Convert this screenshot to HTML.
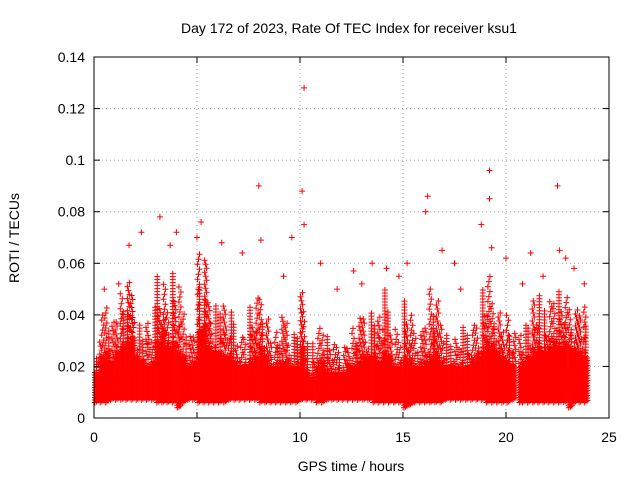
<!DOCTYPE html>
<html><head><meta charset="utf-8"><style>
body{margin:0;background:#fff}
svg{display:block;font-family:"Liberation Sans",sans-serif}
</style></head><body>
<svg id="chart" width="640" height="480" viewBox="0 0 640 480">
<rect width="640" height="480" fill="#fff"/>
<text x="349" y="33" font-size="14" text-anchor="middle">Day 172 of 2023, Rate Of TEC Index for receiver ksu1</text>
<text transform="translate(19,238) rotate(-90)" font-size="14" text-anchor="middle">ROTI / TECUs</text>
<text x="351" y="471" font-size="14" text-anchor="middle">GPS time / hours</text>
<g id="grid"></g>
<g id="marks"></g>
<g id="ticks"></g>
<rect x="94" y="57" width="515" height="361" fill="none" stroke="#000" stroke-width="1"/>
</svg>
<script>
const xTicks=[0,5,10,15,20,25];
const yTicks=[0,0.02,0.04,0.06,0.08,0.1,0.12,0.14];
const yTickLabels=["0","0.02","0.04","0.06","0.08","0.1","0.12","0.14"];
const binWidth=0.25;
const binStarts=[0,0.25,0.5,0.75,1,1.25,1.5,1.75,2,2.25,2.5,2.75,3,3.25,3.5,3.75,4,4.25,4.5,4.75,5,5.25,5.5,5.75,6,6.25,6.5,6.75,7,7.25,7.5,7.75,8,8.25,8.5,8.75,9,9.25,9.5,9.75,10,10.25,10.5,10.75,11,11.25,11.5,11.75,12,12.25,12.5,12.75,13,13.25,13.5,13.75,14,14.25,14.5,14.75,15,15.25,15.5,15.75,16,16.25,16.5,16.75,17,17.25,17.5,17.75,18,18.25,18.5,18.75,19,19.25,19.5,19.75,20,20.25,20.6,20.75,21,21.25,21.5,21.75,22,22.25,22.5,22.75,23,23.25,23.5,23.75];
const denseTop=[0.018,0.024,0.026,0.022,0.026,0.028,0.03,0.032,0.024,0.022,0.02,0.022,0.03,0.034,0.028,0.03,0.026,0.024,0.02,0.022,0.034,0.036,0.028,0.026,0.026,0.024,0.024,0.022,0.02,0.02,0.022,0.024,0.028,0.024,0.02,0.02,0.022,0.022,0.02,0.02,0.028,0.018,0.016,0.02,0.022,0.018,0.018,0.018,0.018,0.02,0.02,0.022,0.024,0.024,0.024,0.022,0.026,0.024,0.02,0.02,0.024,0.022,0.02,0.02,0.022,0.024,0.026,0.022,0.02,0.02,0.02,0.02,0.02,0.022,0.024,0.026,0.03,0.028,0.026,0.024,0.022,0.02,0.02,0.022,0.024,0.026,0.028,0.026,0.028,0.03,0.028,0.03,0.028,0.026,0.026,0.024];
const sparseTop=[0.024,0.04,0.048,0.042,0.046,0.05,0.054,0.052,0.04,0.036,0.038,0.044,0.062,0.058,0.05,0.056,0.052,0.045,0.036,0.04,0.064,0.062,0.05,0.048,0.05,0.044,0.042,0.04,0.036,0.038,0.044,0.048,0.052,0.042,0.036,0.034,0.04,0.042,0.036,0.04,0.05,0.03,0.032,0.04,0.04,0.032,0.03,0.03,0.03,0.034,0.036,0.04,0.042,0.046,0.044,0.04,0.05,0.046,0.04,0.036,0.046,0.04,0.036,0.038,0.044,0.05,0.046,0.04,0.036,0.034,0.032,0.036,0.036,0.04,0.044,0.05,0.056,0.05,0.046,0.04,0.04,0.034,0.036,0.04,0.044,0.046,0.048,0.046,0.05,0.054,0.05,0.048,0.046,0.046,0.05,0.044];
const binLow=[0.006,0.006,0.006,0.007,0.007,0.007,0.007,0.007,0.007,0.007,0.007,0.007,0.006,0.006,0.006,0.006,0.004,0.006,0.007,0.007,0.006,0.006,0.006,0.006,0.006,0.006,0.007,0.007,0.007,0.007,0.007,0.007,0.006,0.006,0.006,0.006,0.006,0.006,0.006,0.006,0.007,0.007,0.007,0.006,0.006,0.007,0.007,0.007,0.007,0.007,0.007,0.007,0.007,0.007,0.006,0.006,0.006,0.006,0.006,0.006,0.004,0.005,0.006,0.006,0.006,0.006,0.006,0.006,0.007,0.007,0.007,0.007,0.007,0.007,0.007,0.007,0.006,0.006,0.006,0.006,0.006,0.007,0.006,0.006,0.006,0.006,0.006,0.006,0.006,0.006,0.006,0.006,0.004,0.006,0.006,0.006];
const outT=[10.2,8,10.1,19.2,19.2,22.5,16.2,16.1,3.2,5.2,4,1.7,2.3,6.2,9.6,10.2,19.3,22.6,8.1,7.2,11,13.5,15.2,14.2,17.5,18.8,20,21.2,23.3,12.6,3.7,5,16.9,22.9,0.5,1.2,9.2,11.8,13,14.8,17.8,20.8,21.8,23.8];
const outV=[0.128,0.09,0.088,0.096,0.085,0.09,0.086,0.08,0.078,0.076,0.072,0.067,0.072,0.068,0.07,0.075,0.066,0.065,0.069,0.064,0.06,0.06,0.06,0.058,0.06,0.075,0.062,0.064,0.058,0.057,0.067,0.07,0.065,0.062,0.05,0.052,0.055,0.05,0.052,0.055,0.05,0.052,0.055,0.052];
const X0=94,X1=609,Y0=418,Y1=57;
const xs=v=>X0+(v-0)/(25-0)*(X1-X0);
const ys=v=>Y0-(v-0)/(0.14-0)*(Y0-Y1);
const NS="http://www.w3.org/2000/svg";
const grid=document.getElementById('grid'),ticks=document.getElementById('ticks'),marks=document.getElementById('marks');
function mk(tag,attrs,parent){const e=document.createElementNS(NS,tag);for(const k in attrs)e.setAttribute(k,attrs[k]);parent.appendChild(e);return e;}
xTicks.forEach(t=>{const x=xs(t);
 if(t>0&&t<25){const g=mk('line',{x1:x,x2:x,y1:Y0,y2:Y1,stroke:'#a0a0a0','stroke-dasharray':'1,3'},grid);
 
 }
 mk('line',{x1:x,x2:x,y1:Y0,y2:Y0-6,stroke:'#000'},ticks);mk('line',{x1:x,x2:x,y1:Y1,y2:Y1+6,stroke:'#000'},ticks);
 const l=mk('text',{x:x,y:Y0+24,'font-size':14,'text-anchor':'middle'},ticks);l.textContent=t;
 
 });
yTicks.forEach((t,i)=>{const y=ys(t);
 if(i>0&&i<yTicks.length-1){const g=mk('line',{x1:X0,x2:X1,y1:y,y2:y,stroke:'#a0a0a0','stroke-dasharray':'1,3'},grid);
 
 }
 mk('line',{x1:X0,x2:X0+6,y1:y,y2:y,stroke:'#000'},ticks);mk('line',{x1:X1,x2:X1-6,y1:y,y2:y,stroke:'#000'},ticks);
 const l=mk('text',{x:X0-9,y:y+5,'font-size':14,'text-anchor':'end'},ticks);l.textContent=yTickLabels[i];
 
 });
function plus(x,y){return `M${(x-3).toFixed(1)},${y.toFixed(1)}h6M${x.toFixed(1)},${(y-3).toFixed(1)}v6`;}
binStarts.forEach((b,i)=>{
 const xa=xs(b)+1,xb=xs(b+binWidth)-1;let d='';
 const yd=ys(denseTop[i]),yl=ys(binLow[i]),ysp=ys(sparseTop[i]);
 let c=0;
 for(let x=xa;x<=xb;x+=1.5,c++){
  for(let y=yl-(c%3);y>=yd;y-=2.5){d+=plus(x,y);}
 }
 c=0;
 for(let x=xa+0.5;x<=xb;x+=2,c++){
  const k=(c*7+i*3)%5;
  const top=ysp+k*((yd-ysp)/5);
  for(let y=yd-1-((c*3+i)%4);y>=top;y-=3+((c+i)%3)){d+=plus(x+((c+Math.round(y))%3)-1,y);}
 }
 const p=mk('path',{d:d,stroke:'#ff0000','stroke-width':1,fill:'none'},marks);
 
 
});
outT.forEach((t,i)=>{
 const p=mk('path',{d:plus(xs(t),ys(outV[i])),stroke:'#ff0000','stroke-width':1},marks);
 
 
});
</script>
</body></html>
